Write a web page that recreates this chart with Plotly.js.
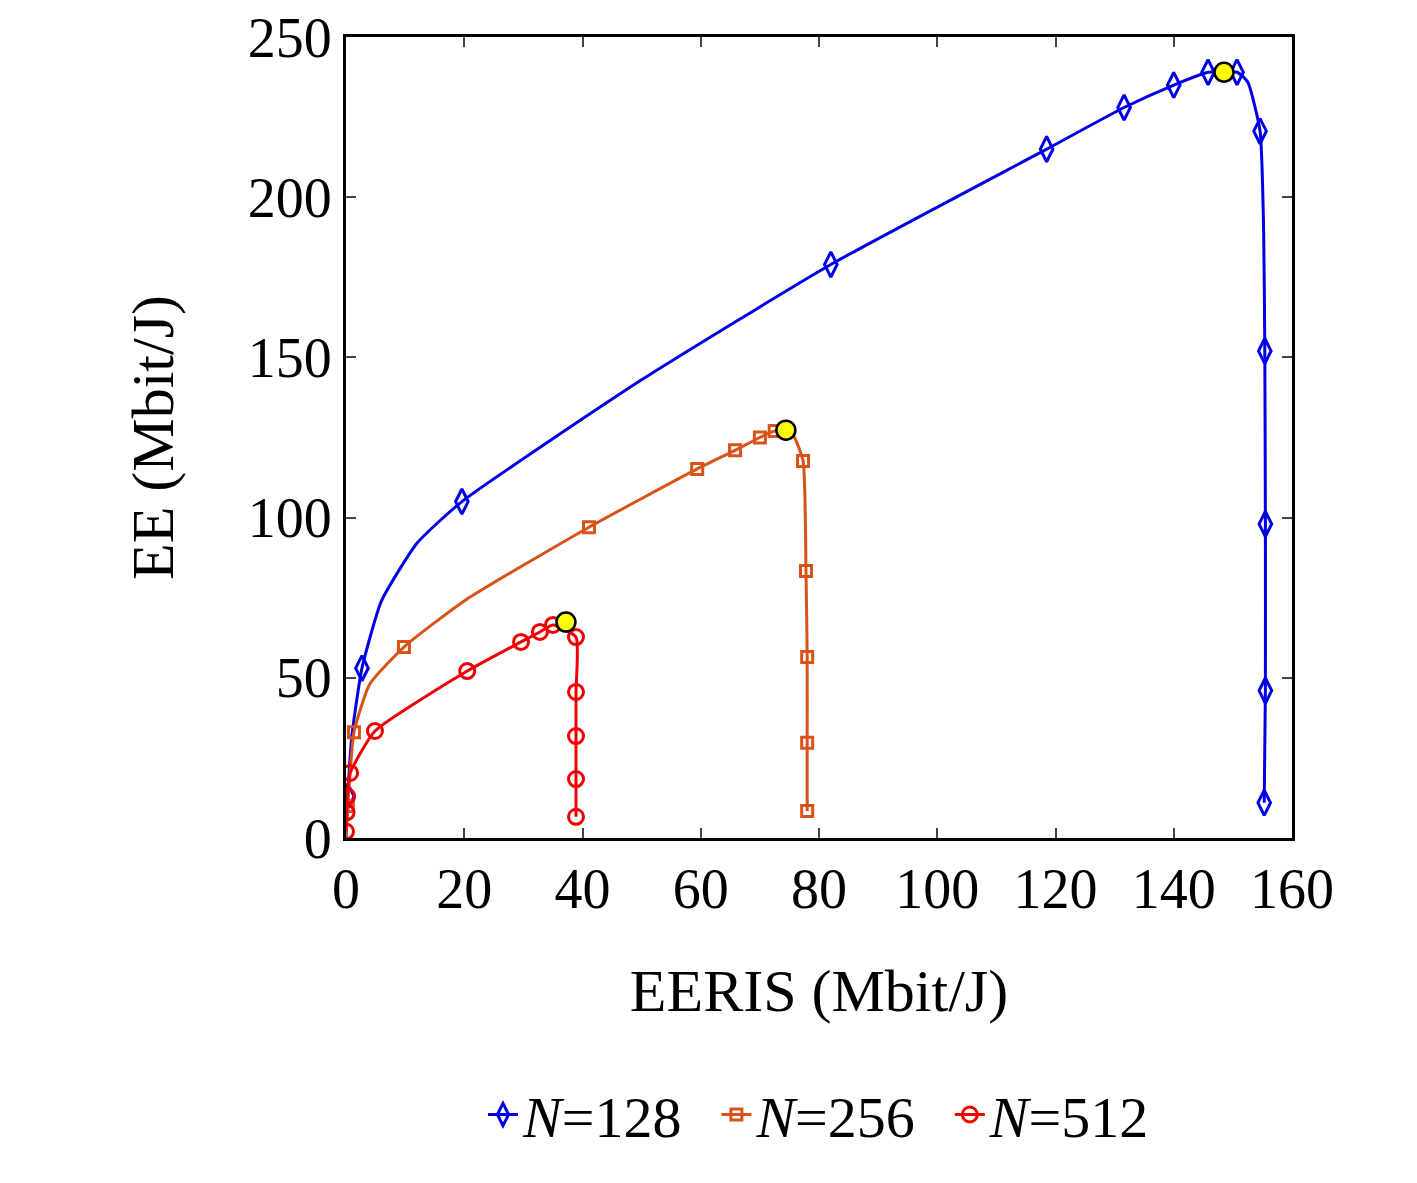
<!DOCTYPE html>
<html>
<head>
<meta charset="utf-8">
<script src="https://cdn.plot.ly/plotly-3.0.1.min.js"></script>
<style>body{margin:0;background:#fff}#plot{width:1417px;height:1183px}</style>
</head>
<body>
<div id="plot"></div>
<script>
const seriesNames = ['<i>N</i>=128&nbsp;&nbsp;', '<i>N</i>=256&nbsp;&nbsp;', '<i>N</i>=512']
const colors = ['#0000e6', '#d95319', '#ee0000']
const symbols = ['diamond-tall-open', 'square-open', 'circle-open']
const sizes = [18, 11, 15]

// marker points
const x128 = [0.3, 2.7, 19.6, 82, 118.5, 131.6, 140, 145.8, 150.7, 154.6, 155.4, 155.5, 155.5, 155.3]
const y128 = [13, 53, 105, 179, 215, 228, 235, 239, 239, 220.6, 152, 98, 46, 11]
const x256 = [0.3, 1.35, 9.8, 41.1, 59.4, 65.8, 70, 72.5, 77.3, 77.8, 78, 78, 78]
const y256 = [10, 33, 59.6, 97, 115.2, 121, 125, 127, 117.7, 83.3, 56.5, 29.7, 8.4]
const x512 = [0, 0.1, 0.2, 0.7, 4.9, 20.5, 29.6, 32.8, 35, 38.9, 38.9, 38.9, 38.9, 38.9]
const y512 = [2, 8, 13, 20.3, 33.4, 52.1, 61.2, 64.3, 66.5, 62.7, 45.6, 31.8, 18.4, 6.6]
const xOpt = [148.5, 74.4, 37.2]
const yOpt = [239, 127.3, 67.4]

// curve points (marker points plus extra points)
const c128x = [0, 0.3, 1, 2.7, 6, 12, 19.6, 50, 82, 118.5, 131.6, 140, 145.8, 150.7, 152.5, 154.6, 155.2, 155.4, 155.5, 155.5, 155.3]
const c128y = [0, 13, 32, 53, 74, 92, 105, 143, 179, 215, 228, 235, 239, 239, 236, 220.6, 190, 152, 98, 46, 11]
const c256x = [0, 0.3, 1.35, 4, 9.8, 20, 41.1, 59.4, 65.8, 70, 72.5, 75.5, 77.3, 77.8, 78, 78, 78]
const c256y = [0, 10, 33, 48, 59.6, 74, 97, 115.2, 121, 125, 127, 126, 117.7, 83.3, 56.5, 29.7, 8.4]
const curvesX = [c128x, c256x, x512]
const curvesY = [c128y, c256y, y512]
const markX = [x128, x256, x512]
const markY = [y128, y256, y512]

const font = { family: 'Liberation Serif, DejaVu Serif, serif', color: '#000' }

const data = []
for (let i = 0; i < 3; i++) {
  data.push({ x: curvesX[i], y: curvesY[i], mode: 'lines', showlegend: false, hoverinfo: 'skip',
    line: { color: colors[i], width: 3, shape: 'spline', smoothing: 0.5 } })
  data.push({ x: markX[i], y: markY[i], mode: 'markers', showlegend: false,
    marker: { symbol: symbols[i], size: sizes[i], color: colors[i], line: { width: 3 } } })
}
for (let i = 0; i < 3; i++) {
  data.push({ name: seriesNames[i], x: [null], y: [null], mode: 'lines+markers',
    line: { color: colors[i], width: 3 },
    marker: { symbol: symbols[i], size: sizes[i], color: colors[i], line: { width: 3 } } })
}
data.push({ x: xOpt, y: yOpt, mode: 'markers', showlegend: false,
  marker: { symbol: 'circle', size: 19, color: '#ffff00', line: { color: '#000', width: 2.5 } } })

const axis = { showline: true, mirror: 'ticks', linecolor: '#000', linewidth: 3, ticks: 'inside', ticklen: 10, tickwidth: 2,
  showgrid: false, zeroline: false, tickfont: Object.assign({ size: 56 }, font) }

const layout = {
  width: 1417, height: 1183,
  margin: { l: 346, r: 125, t: 37, b: 345 },
  paper_bgcolor: '#fff', plot_bgcolor: '#fff',
  font: font,
  xaxis: Object.assign({}, axis, { range: [0, 160], dtick: 20,
    title: { text: 'EERIS (Mbit/J)', font: Object.assign({ size: 60 }, font), standoff: 50 } }),
  yaxis: Object.assign({}, axis, { range: [0, 250], dtick: 50,
    title: { text: 'EE (Mbit/J)', font: Object.assign({ size: 60 }, font), standoff: 55 } }),
  showlegend: true,
  legend: { orientation: 'h', x: 0.5, xanchor: 'center', y: -0.29, yanchor: 'top',
    font: Object.assign({ size: 58 }, font) }
}

Plotly.newPlot('plot', data, layout, { displayModeBar: false })
</script>
</body>
</html>
